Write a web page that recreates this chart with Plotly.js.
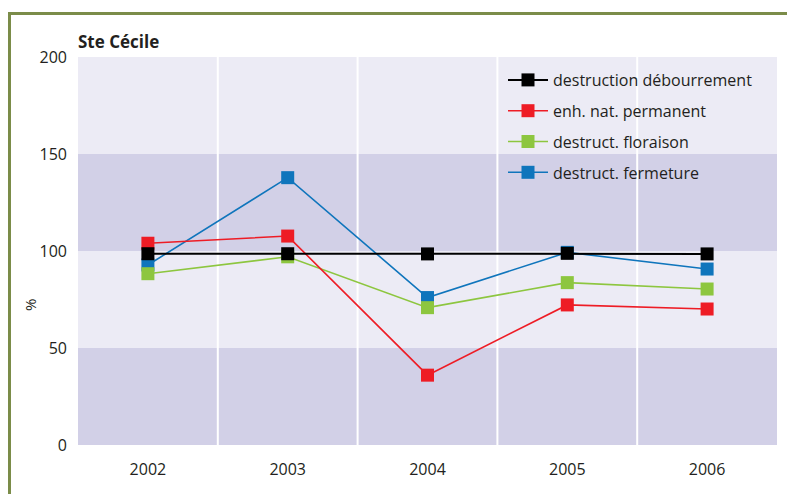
<!DOCTYPE html>
<html>
<head>
<meta charset="utf-8">
<script src="https://cdn.plot.ly/plotly-3.0.1.min.js"></script>
<style>
html,body{margin:0;padding:0;background:#fff;}
#frame{position:absolute;left:8px;top:12px;width:790px;height:490px;border-left:3px solid #7b8c49;border-top:3px solid #7b8c49;}
#chart{position:absolute;left:0;top:0;width:787px;height:494px;}
</style>
</head>
<body>
<div id="frame"></div>
<div id="chart"></div>
<script>
const years = ['2002','2003','2004','2005','2006'];
const seriesNames = ['destruction débourrement','enh. nat. permanent','destruct. floraison','destruct. fermeture'];
const debourrement = [98.6, 98.6, 98.5, 98.8, 98.5];
const permanent = [104, 107.7, 36, 72.2, 70.1];
const floraison = [88.3, 97, 70.8, 83.7, 80.4];
const fermeture = [92.8, 137.8, 76, 99.3, 90.7];
const colors = ['#000000','#ee1c25','#8dc63f','#0f75bc'];
const yTicks = [0,50,100,150,200];

const xIdx = years.map((_, i) => i);
const allSeries = [debourrement, permanent, floraison, fermeture];

const traces = allSeries.map((vals, k) => ({
  type: 'scatter',
  mode: 'lines+markers',
  x: xIdx,
  y: vals,
  name: seriesNames[k],
  legendgroup: 'g' + k,
  legendrank: k + 1,
  line: {color: colors[k], width: k === 0 ? 2 : 1.6},
  marker: {symbol: 'square', size: 13, color: colors[k]}
}));
const order = [3, 2, 1, 0];
const data = order.map(i => traces[i]);

const shapes = [];
const bands = [[0,50,'#d2d0e7'],[50,100,'#ecebf5'],[100,150,'#d2d0e7'],[150,200,'#ecebf5']];
bands.forEach(b => shapes.push({type:'rect', xref:'paper', yref:'y', x0:0, x1:1, y0:b[0], y1:b[1], fillcolor:b[2], line:{width:0}, layer:'below'}));
for (let i = 0; i < years.length - 1; i++) {
  shapes.push({type:'line', xref:'x', yref:'paper', x0:i+0.5, x1:i+0.5, y0:0, y1:1, line:{color:'#ffffff', width:2}, layer:'below'});
}

const layout = {
  width: 787, height: 494,
  margin: {l: 78, r: 10, t: 57, b: 49},
  paper_bgcolor: 'rgba(0,0,0,0)',
  plot_bgcolor: 'rgba(0,0,0,0)',
  font: {family: 'Open Sans, Noto Sans, sans-serif', size: 16, color: '#231f20'},
  title: {text: '<b>Ste Cécile</b>', x: 78/787, xref: 'container', xanchor: 'left', y: 1 - 42/494, yref: 'container', yanchor: 'middle', font: {size: 17, color: '#231f20', family: 'Open Sans, sans-serif'}},
  showlegend: true,
  legend: {
    x: (503 - 78) / 699, xref: 'paper', y: 1 - 6/388, yanchor: 'top',
    traceorder: 'grouped', tracegroupgap: 7,
    bgcolor: 'rgba(0,0,0,0)',
    font: {size: 16, color: '#231f20'},
    itemwidth: 40
  },
  xaxis: {
    range: [-0.5, 4.5], tickvals: xIdx, ticktext: years,
    showgrid: false, zeroline: false, showline: false, ticks: '',
    ticklabelstandoff: 13, fixedrange: true, automargin: false
  },
  yaxis: {
    range: [0, 200], tickvals: yTicks, showgrid: false, zeroline: false, showline: false, ticks: '',
    ticklabelstandoff: 10, automargin: false
  },
  annotations: [{
    text: '%', xref: 'paper', yref: 'paper', x: (30 - 78) / 699, y: (445 - 305) / 388,
    xanchor: 'center', yanchor: 'middle', textangle: -90, showarrow: false, font: {size: 15, color: '#231f20'}
  }],
  shapes: shapes
};

Plotly.newPlot('chart', data, layout, {staticPlot: true});
</script>
</body>
</html>
